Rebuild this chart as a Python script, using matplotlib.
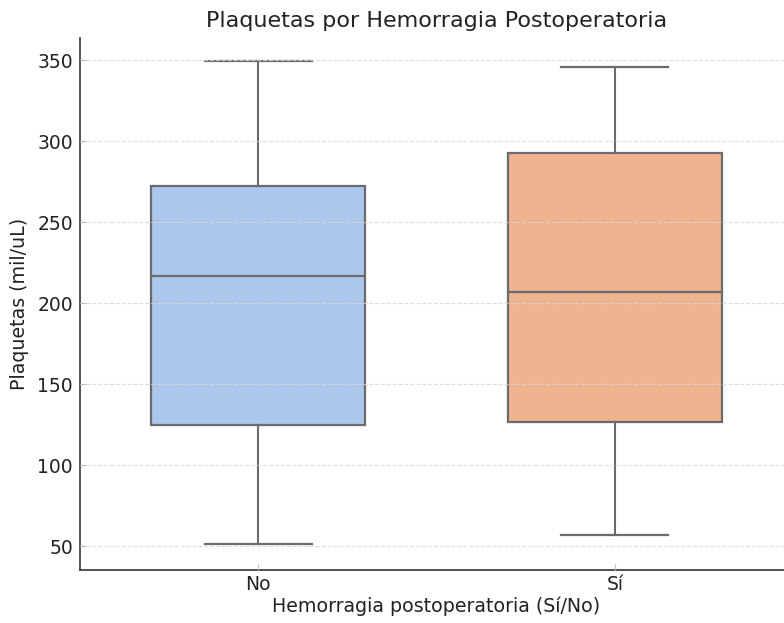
import matplotlib
matplotlib.use('Agg')
from matplotlib import pyplot as plt

# Estadísticas
grupos = ['No', 'Sí']
minimos = [51, 57]
q1 = [125, 126.5]
medianas = [216.5, 206.5]
q3 = [272, 292.5]
maximos = [349.5, 345.5]
colores = ['#abc8ec', '#eeb48f']

stats = []
for g, lo, a, m, b, hi in zip(grupos, minimos, q1, medianas, q3, maximos):
    stats.append({'label': g, 'whislo': lo, 'q1': a, 'med': m, 'q3': b, 'whishi': hi, 'fliers': []})

fig = plt.figure(figsize=(7.84, 6.23), dpi=100)
ax = fig.add_axes([80 / 784, 53 / 623, 713 / 784, 532 / 623])

gris = '#6b6b6b'
bp = ax.bxp(stats, positions=range(len(grupos)), widths=0.6, patch_artist=True,
            boxprops=dict(edgecolor=gris, linewidth=1.6),
            medianprops=dict(color=gris, linewidth=1.6),
            whiskerprops=dict(color=gris, linewidth=1.5),
            capprops=dict(color=gris, linewidth=1.6),
            capwidths=0.3)
for caja, c in zip(bp['boxes'], colores):
    caja.set_facecolor(c)

ax.set_xlim(-0.5, 1.5)
ax.set_ylim(35.2, 363.6)
ax.set_yticks([50, 100, 150, 200, 250, 300, 350])
ax.yaxis.grid(True, linestyle='--', color='#d8d8d8', linewidth=0.8, alpha=0.8)
ax.set_axisbelow(False)

for s in ['top', 'right']:
    ax.spines[s].set_visible(False)
for s in ['left', 'bottom']:
    ax.spines[s].set_color('#333333')
    ax.spines[s].set_linewidth(1.2)
ax.tick_params(direction='in', length=4, color='#bbbbbb', labelsize=13.5, labelcolor='#222222')
ax.tick_params(axis='y', pad=5)

ax.set_title('Plaquetas por Hemorragia Postoperatoria', fontsize=16, color='#222222', pad=8)
ax.set_xlabel('Hemorragia postoperatoria (Sí/No)', fontsize=13.7, color='#222222', labelpad=2)
ax.set_ylabel('Plaquetas (mil/uL)', fontsize=13.7, color='#222222', labelpad=6)

fig.savefig('out.png', dpi=100)
